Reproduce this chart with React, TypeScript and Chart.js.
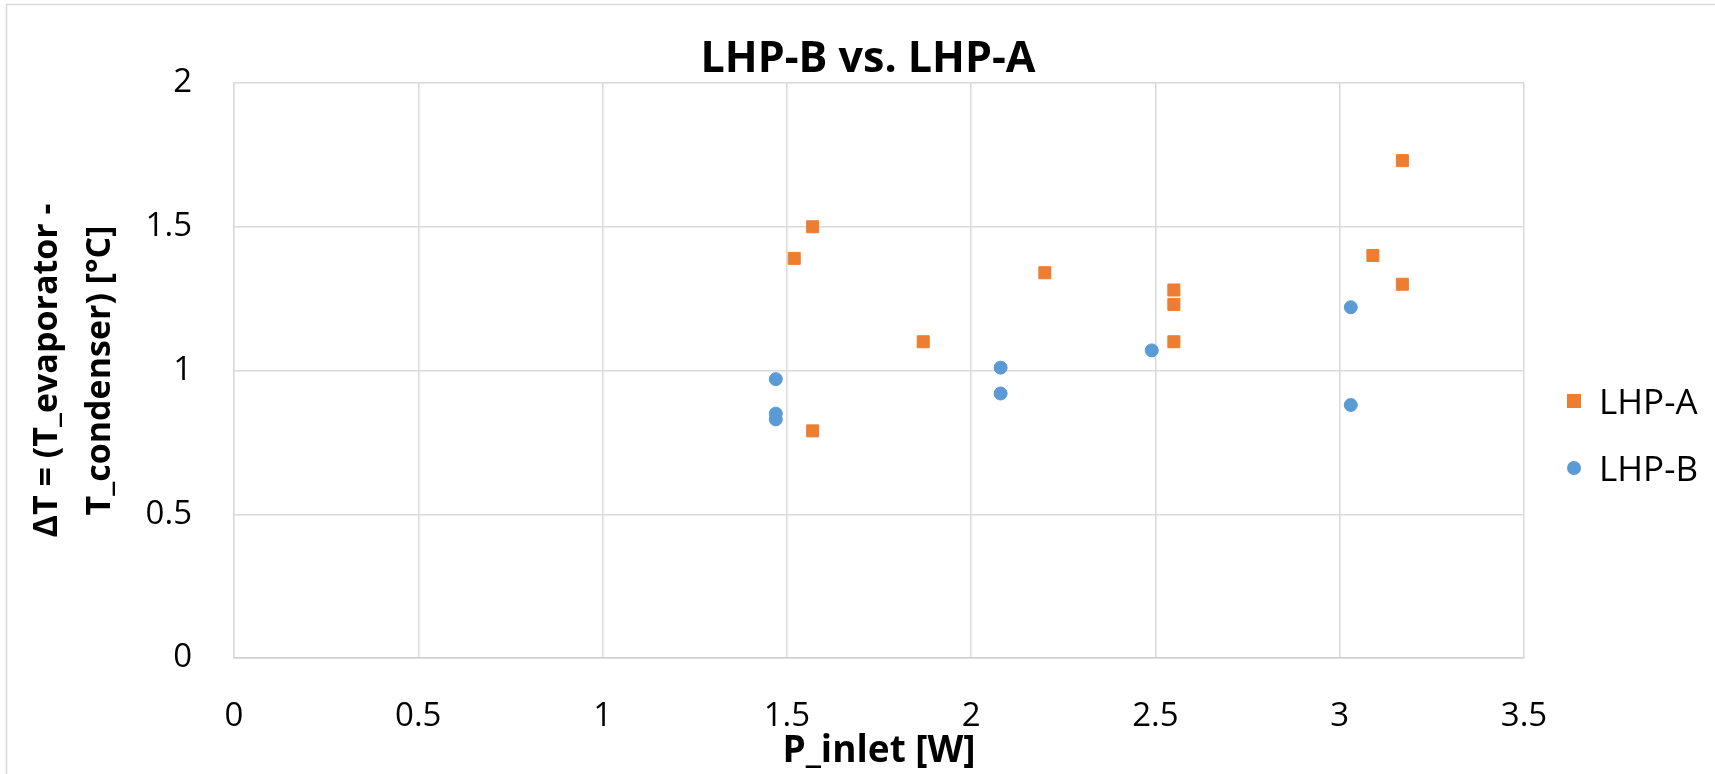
import React, { useEffect, useRef } from "react";
import { Chart, registerables } from "chart.js";

Chart.register(...registerables);

const chartTitle = "LHP-B vs. LHP-A";
const xAxisTitle = "P_inlet [W]";
const yAxisTitleLines = ["ΔT = (T_evaporator -", "T_condenser) [°C]"];

const seriesNames = ["LHP-A", "LHP-B"];

const lhpAX = [1.52, 1.57, 1.57, 1.87, 2.2, 2.55, 2.55, 2.55, 3.09, 3.17, 3.17];
const lhpAY = [1.39, 1.5, 0.79, 1.1, 1.34, 1.28, 1.23, 1.1, 1.4, 1.3, 1.73];

const lhpBX = [1.47, 1.47, 1.47, 2.08, 2.08, 2.49, 3.03, 3.03];
const lhpBY = [0.97, 0.85, 0.83, 1.01, 0.92, 1.07, 1.22, 0.88];

const xTickValues = [0, 0.5, 1, 1.5, 2, 2.5, 3, 3.5];
const xTickLabels = ["0", "0.5", "1", "1.5", "2", "2.5", "3", "3.5"];
const yTickValues = [0, 0.5, 1, 1.5, 2];
const yTickLabels = ["0", "0.5", "1", "1.5", "2"];

const ORANGE = "#ED7D31";
const BLUE = "#5B9BD5";
const GRID = "#d9d9d9";
const FONT = "'Open Sans', 'DejaVu Sans', sans-serif";

const W = 1715;
const H = 774;

export default function App() {
  const ref = useRef<HTMLCanvasElement | null>(null);

  useEffect(() => {
    if (!ref.current) return;

    const decor = {
      id: "decor",
      beforeDraw(chart: any) {
        const ctx = chart.ctx;
        ctx.save();
        ctx.fillStyle = "#ffffff";
        ctx.fillRect(0, 0, chart.width, chart.height);
        ctx.strokeStyle = "#d9d9d9";
        ctx.lineWidth = 1.5;
        ctx.strokeRect(6.5, 4.5, chart.width + 20, chart.height + 20);
        ctx.restore();
      },
      afterDraw(chart: any) {
        const ctx = chart.ctx;
        const area = chart.chartArea;
        ctx.save();
        ctx.fillStyle = "#000000";
        // main title
        ctx.font = `bold 43px ${FONT}`;
        ctx.textAlign = "center";
        ctx.textBaseline = "alphabetic";
        ctx.fillText(chartTitle, 868, 72);
        // x axis title
        ctx.font = `bold 37px ${FONT}`;
        ctx.fillText(xAxisTitle, (area.left + area.right) / 2, 762);
        // y axis title (rotated)
        const cy = (area.top + area.bottom) / 2;
        const baselines = [57, 110];
        yAxisTitleLines.forEach((line, i) => {
          ctx.save();
          ctx.translate(baselines[i], cy);
          ctx.rotate(-Math.PI / 2);
          ctx.font = `bold 34px ${FONT}`;
          ctx.textAlign = "center";
          ctx.textBaseline = "alphabetic";
          ctx.fillText(line, 0, 0);
          ctx.restore();
        });
        // legend
        const legendRows = [401, 468];
        const mx = 1574;
        chart.data.datasets.forEach((ds: any, i: number) => {
          const y = legendRows[i];
          ctx.fillStyle = ds.backgroundColor;
          if (ds.pointStyle === "rect") {
            ctx.fillRect(mx - 7, y - 7, 14, 14);
          } else {
            ctx.beginPath();
            ctx.arc(mx, y, 7, 0, Math.PI * 2);
            ctx.fill();
          }
          ctx.fillStyle = "#000000";
          ctx.font = `35px ${FONT}`;
          ctx.textAlign = "left";
          ctx.textBaseline = "alphabetic";
          ctx.fillText(ds.label, 1599, y + 12.5);
        });
        ctx.restore();
      },
    };

    const chart = new Chart(ref.current, {
      type: "scatter",
      data: {
        datasets: [
          {
            label: seriesNames[0],
            data: lhpAX.map((x, i) => ({ x, y: lhpAY[i] })),
            backgroundColor: ORANGE,
            borderColor: ORANGE,
            borderWidth: 1,
            pointStyle: "rect",
            pointRadius: 8.5,
          },
          {
            label: seriesNames[1],
            data: lhpBX.map((x, i) => ({ x, y: lhpBY[i] })),
            backgroundColor: BLUE,
            borderColor: BLUE,
            borderWidth: 1,
            pointStyle: "circle",
            pointRadius: 6.5,
          },
        ],
      },
      options: {
        responsive: false,
        animation: false,
        devicePixelRatio: 1,
        layout: {
          padding: { left: 134, right: 191, top: 83, bottom: 16 },
        },
        plugins: {
          legend: { display: false },
          title: { display: false },
          tooltip: { enabled: false },
        },
        scales: {
          x: {
            type: "linear",
            min: 0,
            max: 3.5,
            afterFit(scale: any) {
              scale.height = 100;
            },
            afterBuildTicks(scale: any) {
              scale.ticks = xTickValues.map((v) => ({ value: v }));
            },
            ticks: {
              padding: 39,
              color: "#000",
              font: { family: FONT, size: 33 },
              callback: (v: any) => {
                const i = xTickValues.indexOf(Number(v));
                return i >= 0 ? xTickLabels[i] : "";
              },
            },
            grid: { color: GRID, lineWidth: 1.5, drawTicks: false },
            border: { color: "#cfcfcf", width: 1.5 },
          },
          y: {
            type: "linear",
            min: 0,
            max: 2,
            afterFit(scale: any) {
              scale.width = 100;
            },
            afterBuildTicks(scale: any) {
              scale.ticks = yTickValues.map((v) => ({ value: v }));
            },
            ticks: {
              padding: 42,
              color: "#000",
              font: { family: FONT, size: 33 },
              callback: (v: any) => {
                const i = yTickValues.indexOf(Number(v));
                return i >= 0 ? yTickLabels[i] : "";
              },
            },
            grid: { color: GRID, lineWidth: 1.5, drawTicks: false },
            border: { color: GRID, width: 1.5 },
          },
        },
      },
      plugins: [decor],
    } as any);

    return () => chart.destroy();
  }, []);

  return (
    <div style={{ position: "fixed", left: 0, top: 0, width: W, height: H, background: "#fff" }}>
      <canvas ref={ref} width={W} height={H} style={{ display: "block", width: W, height: H }} />
    </div>
  );
}
